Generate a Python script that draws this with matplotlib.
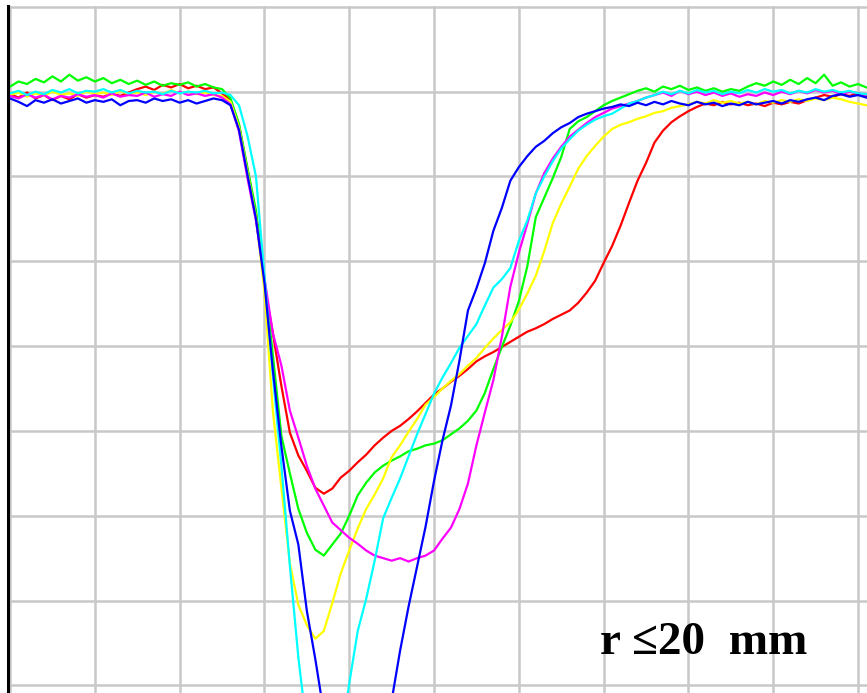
import matplotlib
matplotlib.use("Agg")
import matplotlib.pyplot as plt

# time axis in grid units (one grid cell = 1), 0.1 steps
TIME = [0.0, 0.1, 0.2, 0.3, 0.4, 0.5, 0.6, 0.7, 0.8, 0.9,
        1.0, 1.1, 1.2, 1.3, 1.4, 1.5, 1.6, 1.7, 1.8, 1.9,
        2.0, 2.1, 2.2, 2.3, 2.4, 2.5, 2.6, 2.7, 2.8, 2.9,
        3.0, 3.1, 3.2, 3.3, 3.4, 3.5, 3.6, 3.7, 3.8, 3.9,
        4.0, 4.1, 4.2, 4.3, 4.4, 4.5, 4.6, 4.7, 4.8, 4.9,
        5.0, 5.1, 5.2, 5.3, 5.4, 5.5, 5.6, 5.7, 5.8, 5.9,
        6.0, 6.1, 6.2, 6.3, 6.4, 6.5, 6.6, 6.7, 6.8, 6.9,
        7.0, 7.1, 7.2, 7.3, 7.4, 7.5, 7.6, 7.7, 7.8, 7.9,
        8.0, 8.1, 8.2, 8.3, 8.4, 8.5, 8.6, 8.7, 8.8, 8.9,
        9.0, 9.1, 9.2, 9.3, 9.4, 9.5, 9.6, 9.7, 9.8, 9.9,
        10.0, 10.1]

red = [6.97, 6.93, 6.99, 6.92, 6.96, 6.90, 6.95, 6.91, 6.97, 6.93,
       6.96, 6.94, 6.98, 6.95, 6.99, 7.03, 7.06, 7.02, 7.08, 7.05,
       7.09, 7.04, 7.07, 7.03, 7.05, 6.98, 6.90, 6.60, 6.08, 5.56,
       4.72, 4.15, 3.53, 2.98, 2.71, 2.53, 2.33, 2.26, 2.32, 2.45,
       2.53, 2.63, 2.72, 2.83, 2.92, 3.00, 3.06, 3.14, 3.23, 3.33,
       3.43, 3.50, 3.58, 3.65, 3.73, 3.82, 3.88, 3.93, 3.99, 4.05,
       4.11, 4.17, 4.21, 4.26, 4.32, 4.37, 4.42, 4.51, 4.63, 4.77,
       4.98, 5.18, 5.42, 5.69, 5.95, 6.16, 6.40, 6.54, 6.64, 6.71,
       6.77, 6.82, 6.86, 6.84, 6.88, 6.85, 6.87, 6.84, 6.86, 6.83,
       6.87, 6.85, 6.88, 6.86, 6.90, 6.93, 6.96, 6.94, 6.97, 6.95,
       6.98, 6.95]

green = [7.06, 7.12, 7.09, 7.15, 7.11, 7.18, 7.12, 7.20, 7.13, 7.17,
         7.12, 7.16, 7.10, 7.14, 7.09, 7.13, 7.08, 7.12, 7.07, 7.10,
         7.08, 7.11, 7.06, 7.09, 7.05, 7.03, 6.92, 6.62, 6.10, 5.60,
         4.80, 3.89, 2.94, 2.50, 2.08, 1.80, 1.60, 1.53, 1.66, 1.79,
         2.00, 2.24, 2.39, 2.51, 2.59, 2.65, 2.70, 2.76, 2.79, 2.83,
         2.85, 2.89, 2.96, 3.03, 3.12, 3.24, 3.45, 3.73, 3.99, 4.24,
         4.53, 4.94, 5.52, 5.75, 5.98, 6.23, 6.56, 6.65, 6.70, 6.77,
         6.84, 6.89, 6.93, 6.97, 7.01, 7.04, 7.00, 7.06, 7.03, 7.07,
         7.02, 7.05, 7.01, 7.04, 7.00, 7.03, 7.01, 7.06, 7.10, 7.07,
         7.12, 7.08, 7.14, 7.09, 7.16, 7.10, 7.20, 7.07, 7.11, 7.06,
         7.09, 7.05]

yellow = [6.96, 6.99, 6.94, 6.98, 6.95, 7.00, 6.96, 6.98, 6.95, 7.00,
          6.97, 6.99, 6.96, 7.01, 6.97, 6.99, 6.96, 7.00, 6.97, 7.02,
          6.98, 7.00, 6.97, 6.99, 6.96, 6.95, 6.88, 6.58, 6.05, 5.52,
          4.65, 3.23, 2.33, 1.44, 0.95, 0.71, 0.55, 0.64, 0.97, 1.32,
          1.59, 1.85, 2.08, 2.25, 2.44, 2.69, 2.83, 2.99, 3.14, 3.31,
          3.40, 3.50, 3.59, 3.67, 3.77, 3.86, 3.98, 4.09, 4.19, 4.28,
          4.43, 4.62, 4.83, 5.12, 5.45, 5.68, 5.88, 6.09, 6.24, 6.36,
          6.47, 6.56, 6.61, 6.64, 6.68, 6.71, 6.75, 6.77, 6.81, 6.83,
          6.85, 6.88, 6.86, 6.90, 6.87, 6.89, 6.86, 6.88, 6.85, 6.89,
          6.87, 6.90, 6.88, 6.91, 6.89, 6.92, 6.90, 6.93, 6.91, 6.88,
          6.86, 6.84]

magenta = [6.95, 6.92, 6.97, 6.93, 6.96, 6.91, 6.95, 6.93, 6.97, 6.94,
           6.96, 6.93, 6.98, 6.94, 6.96, 6.95, 6.99, 6.94, 6.97, 6.95,
           7.00, 6.96, 6.98, 6.95, 6.97, 6.93, 6.85, 6.53, 5.98, 5.48,
           4.80, 4.15, 3.77, 3.24, 2.92, 2.59, 2.32, 2.12, 1.92, 1.83,
           1.74, 1.67, 1.59, 1.53, 1.50, 1.47, 1.50, 1.46, 1.50, 1.53,
           1.59, 1.73, 1.86, 2.08, 2.38, 2.83, 3.22, 3.60, 4.11, 4.70,
           5.10, 5.44, 5.80, 6.04, 6.21, 6.35, 6.47, 6.55, 6.63, 6.70,
           6.75, 6.80, 6.83, 6.86, 6.89, 6.93, 6.96, 6.99, 6.95, 7.01,
           6.97, 7.00, 6.96, 6.99, 6.95, 6.98, 6.94, 6.97, 6.95, 6.99,
           6.96, 7.00, 6.97, 7.01, 6.98, 7.02, 6.99, 7.01, 6.97, 7.00,
           6.98, 6.96]

cyan = [6.98, 7.01, 6.96, 7.00, 6.97, 7.02, 6.99, 7.03, 6.98, 7.01,
        7.00, 7.03, 6.99, 7.02, 6.98, 7.01, 6.99, 7.00, 6.97, 7.01,
        6.98, 7.00, 6.99, 7.01, 6.98, 6.99, 6.96, 6.84, 6.48, 6.00,
        4.83, 3.65, 2.59, 1.41, 0.33, -0.51, -1.30, -1.83, -1.35, -0.65,
        0.02, 0.64, 1.02, 1.47, 1.97, 2.21, 2.44, 2.70, 2.96, 3.20,
        3.44, 3.63, 3.80, 3.98, 4.12, 4.26, 4.48, 4.69, 4.79, 4.92,
        5.24, 5.48, 5.80, 6.00, 6.18, 6.33, 6.44, 6.54, 6.61, 6.67,
        6.71, 6.74, 6.80, 6.86, 6.89, 6.93, 6.96, 7.00, 6.97, 7.01,
        6.98, 7.02, 6.99, 7.01, 6.97, 7.00, 6.98, 7.02, 6.99, 7.03,
        7.00, 7.02, 6.98, 7.01, 6.99, 7.03, 7.00, 7.02, 6.99, 7.01,
        6.98, 6.97]

blue = [6.92, 6.88, 6.83, 6.90, 6.87, 6.91, 6.86, 6.89, 6.92, 6.87,
        6.90, 6.88, 6.91, 6.84, 6.89, 6.90, 6.87, 6.92, 6.89, 6.91,
        6.87, 6.90, 6.86, 6.89, 6.92, 6.90, 6.84, 6.55, 6.02, 5.50,
        4.75, 3.71, 2.82, 2.06, 1.66, 0.88, 0.31, -0.32, -0.88, -1.45,
        -2.00, -2.41, -2.06, -1.50, -0.93, -0.18, 0.41, 0.93, 1.40, 1.87,
        2.41, 2.89, 3.30, 3.83, 4.42, 4.68, 4.98, 5.36, 5.63, 5.95,
        6.11, 6.24, 6.35, 6.42, 6.51, 6.58, 6.63, 6.70, 6.74, 6.77,
        6.80, 6.82, 6.85, 6.83, 6.87, 6.84, 6.88, 6.85, 6.89, 6.86,
        6.84, 6.88, 6.85, 6.87, 6.83, 6.86, 6.84, 6.88, 6.85, 6.87,
        6.89, 6.86, 6.90, 6.88, 6.91, 6.93, 6.90, 6.95, 6.97, 6.94,
        6.96, 6.93]

series = [(red, '#ff0000'), (green, '#00ff00'), (yellow, '#ffff00'),
          (magenta, '#ff00ff'), (cyan, '#00ffff'), (blue, '#0000ff')]

fig = plt.figure(figsize=(8.67, 6.93), dpi=100)
ax = fig.add_axes([8 / 867, 0, 859 / 867, 687 / 693])

for values, color in series:
    ax.plot(TIME, values, color=color, lw=1.6)

ax.set_xlim(-0.024, 10.106)
ax.set_ylim(-0.09, 8.01)
ax.set_xticks(range(0, 11))
ax.set_yticks(range(0, 9))
ax.tick_params(length=0, labelbottom=False, labelleft=False)
ax.grid(True, color='#c8c8c8', lw=1.8)
ax.set_axisbelow(True)

for side in ['top', 'right', 'bottom']:
    ax.spines[side].set_visible(False)
ax.spines['left'].set_color('black')
ax.spines['left'].set_linewidth(2.2)

ax.text(6.96, 0.37, 'r \u226420  mm', family='Liberation Serif',
        fontweight='bold', fontsize=34, ha='left', va='baseline')

fig.savefig('out.png', dpi=100)
